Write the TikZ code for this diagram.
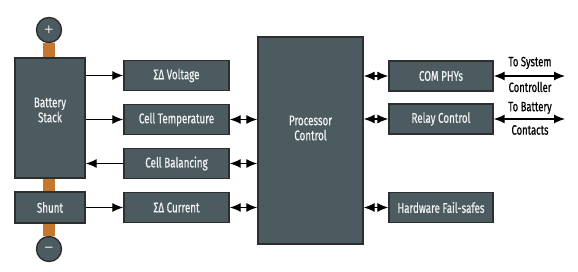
\documentclass[tikz,border=0pt]{standalone}
\usepackage{fontspec}
\setmainfont{Fira Sans}[FakeStretch=0.7, FakeBold=0.6]
\newfontfamily\symfont{DejaVu Sans}
\usetikzlibrary{arrows.meta}
\definecolor{boxfill}{HTML}{4B5B60}
\definecolor{boxline}{HTML}{2E2E2E}
\definecolor{copper}{HTML}{C4772F}
\definecolor{txt}{HTML}{F2F2F2}
\tikzset{
  blk/.style={draw=boxline, line width=1.4pt, fill=boxfill, text=txt, font=\fontsize{14}{15}\selectfont, align=center, inner sep=0pt},
  intext/.style={font=\fontsize{14}{15}\selectfont, text=txt, align=center, inner sep=0pt},
  term/.style={circle, draw=boxline, line width=1.4pt, fill=boxfill, text=txt, minimum size=25pt, inner sep=0pt},
  conn/.style={line width=1.2pt, -{Latex[length=11pt,width=9pt]}},
  bconn/.style={line width=1.2pt, {Latex[length=11pt,width=9pt]}-{Latex[length=11pt,width=9pt]}},
  lbl/.style={font=\fontsize{13.5}{15}\selectfont, text=black, inner sep=0pt}
}
\begin{document}
\begin{tikzpicture}[x=1pt,y=-1pt]
\useasboundingbox (0,0) rectangle (578,272);
% terminals
\node[term, font=\fontsize{12}{14}\selectfont\symfont] (plus) at (49,30) {+};
\node[term, font=\fontsize{12}{14}\selectfont\symfont] (minus) at (49,249) {−};
\draw[copper, line width=12pt] (plus.south) -- (minus.north);
% blocks
\node[blk, minimum width=70pt, minimum height=120pt] (stack) at (50,118) {};
\node[intext] (stackt) at (50,110) {Battery\\[0pt]Stack};
\node[blk, minimum width=70pt, minimum height=31pt] (shunt) at (50,207.5) {Shunt};
\node[blk, minimum width=105pt, minimum height=30pt] (volt) at (176.5,75.5) {ΣΔ Voltage};
\node[blk, minimum width=105pt, minimum height=30pt] (temp) at (176.5,119.5) {Cell Temperature};
\node[blk, minimum width=105pt, minimum height=30pt] (bal) at (176.5,163.5) {Cell Balancing};
\node[blk, minimum width=105pt, minimum height=30pt] (cur) at (176.5,207.5) {ΣΔ Current};
\node[blk, minimum width=105pt, minimum height=207pt] (proc) at (310.5,140.5) {};
\node[intext] (proct) at (310.5,128) {Processor\\[0pt]Control};
\node[blk, minimum width=104pt, minimum height=30pt] (com) at (441,76) {COM PHYs};
\node[blk, minimum width=104pt, minimum height=30pt] (relay) at (441,119) {Relay Control};
\node[blk, minimum width=104pt, minimum height=30pt] (hw) at (441,207.5) {Hardware Fail-safes};
% connectors
\draw[conn] (stack.east |- volt) -- (volt.west);
\draw[conn] (stack.east |- temp) -- (temp.west);
\draw[conn] (bal.west) -- (stack.east |- bal);
\draw[conn] (shunt.east) -- (cur.west);
\draw[bconn] (temp.east) -- (proc.west |- temp);
\draw[bconn] (bal.east) -- (proc.west |- bal);
\draw[bconn] (cur.east) -- (proc.west |- cur);
\draw[bconn] (proc.east |- com) -- (com.west);
\draw[bconn] (proc.east |- relay) -- (relay.west);
\draw[bconn] (proc.east |- hw) -- (hw.west);
\coordinate (sysend) at (565,76);
\coordinate (batend) at (565,119);
\draw[bconn] (com.east) -- (sysend);
\draw[bconn] (relay.east) -- (batend);
\node[lbl] (l1) at (530,63) {To System};
\node[lbl] (l2) at (530,87) {Controller};
\node[lbl] (l3) at (530,108) {To Battery};
\node[lbl] (l4) at (530,130) {Contacts};
\end{tikzpicture}
\end{document}
